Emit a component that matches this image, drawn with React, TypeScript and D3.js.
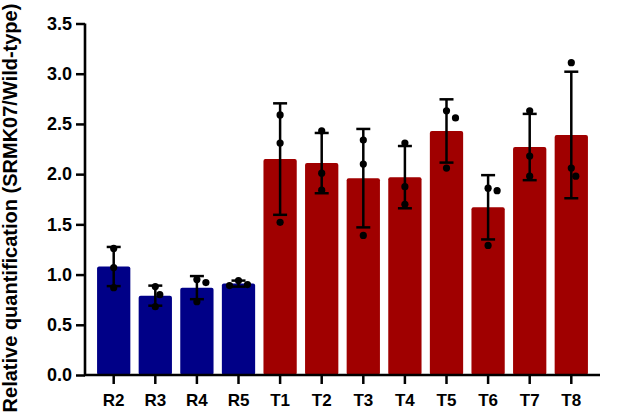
import React, { useEffect, useRef } from 'react';
import * as d3 from 'd3';

// sample lines and the group they belong to
const categories = ['R2', 'R3', 'R4', 'R5', 'T1', 'T2', 'T3', 'T4', 'T5', 'T6', 'T7', 'T8'];
const groups = ['R', 'R', 'R', 'R', 'T', 'T', 'T', 'T', 'T', 'T', 'T', 'T'];

// mean relative quantification and its SD
const means = [1.08, 0.79, 0.87, 0.91, 2.15, 2.11, 1.96, 1.97, 2.43, 1.67, 2.27, 2.39];
const errors = [0.195, 0.1, 0.115, 0.03, 0.555, 0.3, 0.49, 0.31, 0.315, 0.32, 0.33, 0.63];

// the three replicates of each sample
const replicates = [
   [1.26, 1.07, 0.87],
   [0.88, 0.8, 0.68],
   [0.95, 0.92, 0.73],
   [0.94, 0.9, 0.89],
   [2.59, 2.31, 1.52],
   [2.43, 2.01, 1.84],
   [2.34, 2.1, 1.39],
   [2.31, 1.875, 1.7],
   [2.63, 2.56, 2.06],
   [1.86, 1.835, 1.29],
   [2.63, 2.18, 1.98],
   [3.11, 2.06, 1.98],
];

const yTicks = [0, 0.5, 1, 1.5, 2, 2.5, 3, 3.5];
const yTitle = 'Relative quantification (SRMK07/Wild-type)';

const colors: Record<string, string> = { R: '#000087', T: '#a00000' };

const BarChart = () => {
   const svgRef = useRef<SVGSVGElement>(null);

   useEffect(() => {
      const svg = d3.select(svgRef.current);
      svg.selectAll('*').remove();

      const width = 620;
      const height = 416;
      const left = 85;
      const right = 600;
      const top = 23.5;
      const bottom = 375;
      const font = 'Liberation Sans, Arial, sans-serif';

      const x = d3.scaleBand<string>()
         .domain(categories)
         .range([left, right])
         .paddingInner(0.2)
         .paddingOuter(0.29);

      const y = d3.scaleLinear()
         .domain([0, 3.5])
         .range([bottom, top]);

      svg.attr('width', width).attr('height', height);

      // bars
      svg.append('g')
         .selectAll('rect')
         .data(categories)
         .enter().append('rect')
         .attr('x', d => x(d)!)
         .attr('y', (d, i) => y(means[i]))
         .attr('width', x.bandwidth())
         .attr('height', (d, i) => bottom - y(means[i]))
         .attr('rx', 2)
         .attr('fill', (d, i) => colors[groups[i]]);

      // error bars
      const capHalf = 7;
      const err = svg.append('g')
         .attr('stroke', '#000')
         .attr('stroke-width', 2.5)
         .attr('fill', 'none');

      categories.forEach((c, i) => {
         const cx = x(c)! + x.bandwidth() / 2;
         const hi = y(means[i] + errors[i]);
         const lo = y(means[i] - errors[i]);
         err.append('line').attr('x1', cx).attr('x2', cx).attr('y1', hi).attr('y2', lo);
         err.append('line').attr('x1', cx - capHalf).attr('x2', cx + capHalf).attr('y1', hi).attr('y2', hi);
         err.append('line').attr('x1', cx - capHalf).attr('x2', cx + capHalf).attr('y1', lo).attr('y2', lo);
      });

      // replicate dots, nudged sideways when they overlap
      const r = 3.6;
      const step = 4.5;
      const dots = svg.append('g').attr('fill', '#000');
      categories.forEach((c, i) => {
         const cx = x(c)! + x.bandwidth() / 2;
         const placed: { x: number; y: number }[] = [];
         [...replicates[i]].sort((a, b) => b - a).forEach(v => {
            const py = y(v);
            const offsets = [0, step, -step, 2 * step, -2 * step];
            let px = cx;
            for (const o of offsets) {
               const ok = placed.every(p => Math.hypot(p.x - (cx + o), p.y - py) >= 8.5);
               if (ok) { px = cx + o; break; }
            }
            placed.push({ x: px, y: py });
            dots.append('circle').attr('cx', px).attr('cy', py).attr('r', r);
         });
      });

      // y axis
      const yAxis = svg.append('g')
         .attr('transform', `translate(${left},0)`)
         .call(d3.axisLeft(y).tickValues(yTicks).tickFormat(d3.format('.1f')).tickSize(9).tickPadding(4));

      // x axis
      const xAxis = svg.append('g')
         .attr('transform', `translate(0,${bottom})`)
         .call(d3.axisBottom(x).tickSize(9).tickPadding(10));

      [yAxis, xAxis].forEach(ax => {
         ax.select('.domain').remove();
         ax.selectAll('.tick line').attr('stroke', '#000').attr('stroke-width', 2.5);
         ax.selectAll('text')
            .attr('fill', '#000')
            .style('font-family', font)
            .style('font-weight', 'bold');
      });
      yAxis.selectAll('text').style('font-size', '18px');
      xAxis.selectAll('text').style('font-size', '17px');

      // axis lines
      svg.append('path')
         .attr('d', `M${left},${top} V${bottom} H${right}`)
         .attr('fill', 'none')
         .attr('stroke', '#000')
         .attr('stroke-width', 2.6);

      svg.append('text')
         .attr('transform', `translate(16.5,208) rotate(-90)`)
         .attr('text-anchor', 'middle')
         .style('font-family', font)
         .style('font-weight', 'bold')
         .style('font-size', '20px')
         .text(yTitle);
   }, []);

   return <svg ref={svgRef} style={{ position: 'absolute', left: 0, top: 0, background: '#fff' }}></svg>;
};

export default function App() {
   return <BarChart />;
}
